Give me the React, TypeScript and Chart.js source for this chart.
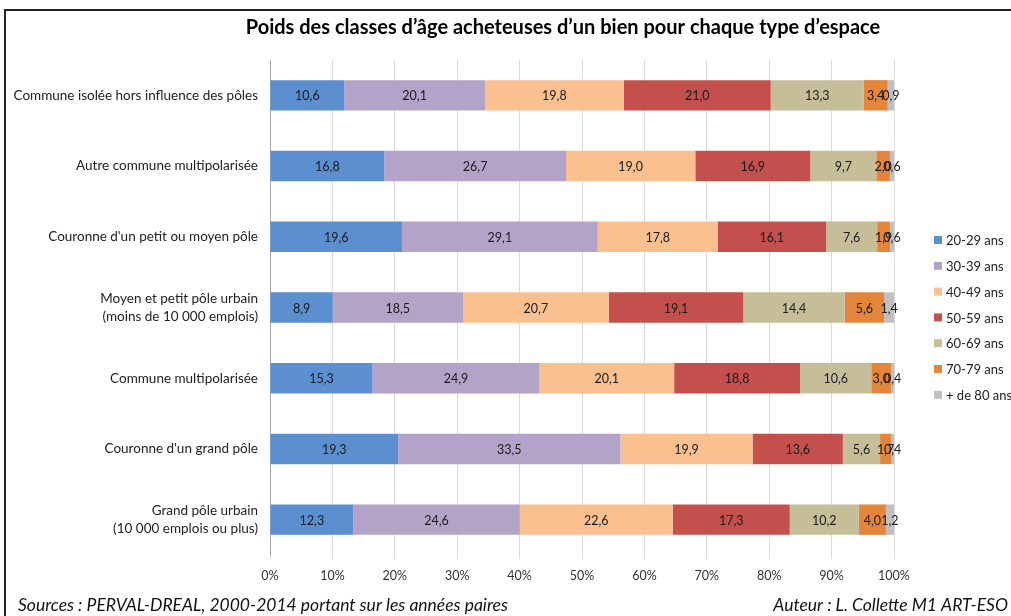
import React, { useEffect, useRef } from "react";
import { Chart, registerables } from "chart.js";

Chart.register(...registerables);

const titleText = "Poids des classes d’âge acheteuses d’un bien pour chaque type d’espace";
const sourceText = "Sources : PERVAL-DREAL, 2000-2014 portant sur les années paires";
const authorText = "Auteur : L. Collette M1 ART-ESO";

const categories: (string | string[])[] = [
  "Commune isolée hors influence des pôles",
  "Autre commune multipolarisée",
  "Couronne d'un petit ou moyen pôle",
  ["Moyen et petit pôle urbain", "(moins de 10 000 emplois)"],
  "Commune multipolarisée",
  "Couronne d'un grand pôle",
  ["Grand pôle urbain", "(10 000 emplois ou plus)"],
];

const seriesNames = ["20-29 ans", "30-39 ans", "40-49 ans", "50-59 ans", "60-69 ans", "70-79 ans", "+ de 80 ans"];
const seriesColors = ["#5B8FCF", "#B4A3C9", "#FAC08F", "#C4504E", "#C5BE98", "#E3853A", "#C0C0C0"];

const s2029 = [10.6, 16.8, 19.6, 8.9, 15.3, 19.3, 12.3];
const s3039 = [20.1, 26.7, 29.1, 18.5, 24.9, 33.5, 24.6];
const s4049 = [19.8, 19.0, 17.8, 20.7, 20.1, 19.9, 22.6];
const s5059 = [21.0, 16.9, 16.1, 19.1, 18.8, 13.6, 17.3];
const s6069 = [13.3, 9.7, 7.6, 14.4, 10.6, 5.6, 10.2];
const s7079 = [3.4, 2.0, 1.9, 5.6, 3.0, 1.7, 4.0];
const s80 = [0.9, 0.6, 0.6, 1.4, 0.4, 0.4, 1.2];

const xTicks = [0, 10, 20, 30, 40, 50, 60, 70, 80, 90, 100];

const FONT = "Lato, 'Open Sans', sans-serif";

export default function App() {
  const ref = useRef<HTMLCanvasElement | null>(null);

  useEffect(() => {
    const canvas = ref.current;
    if (!canvas) return;
    const raw = [s2029, s3039, s4049, s5059, s6069, s7079, s80];
    const totals = categories.map((_, i) => raw.reduce((a, s) => a + s[i], 0));
    const datasets = raw.map((s, k) => ({
      label: seriesNames[k],
      data: s.map((v, i) => (v / totals[i]) * 100),
      rawValues: s,
      backgroundColor: seriesColors[k],
      borderWidth: 0,
      barPercentage: 0.43,
      categoryPercentage: 1,
    }));

    const decor = {
      id: "decor",
      afterDatasetsDraw(chart: any) {
        const ctx = chart.ctx;
        ctx.save();
        ctx.font = `12.5px ${FONT}`;
        ctx.fillStyle = "#1a1a1a";
        ctx.textAlign = "center";
        ctx.textBaseline = "middle";
        chart.data.datasets.forEach((ds: any, di: number) => {
          const meta = chart.getDatasetMeta(di);
          meta.data.forEach((el: any, i: number) => {
            const v = ds.rawValues[i];
            const cx = (el.x + el.base) / 2;
            ctx.fillText(v.toFixed(1).replace(".", ","), cx, el.y + 1);
          });
        });
        ctx.restore();
      },
      afterDraw(chart: any) {
        const ctx = chart.ctx;
        ctx.save();
        // border
        ctx.strokeStyle = "#222";
        ctx.lineWidth = 2;
        ctx.beginPath();
        ctx.moveTo(5, 616);
        ctx.lineTo(5, 10);
        ctx.lineTo(1011, 10);
        ctx.stroke();
        // title
        ctx.fillStyle = "#000";
        ctx.font = `bold 20px ${FONT}`;
        ctx.textAlign = "center";
        ctx.textBaseline = "middle";
        ctx.fillText(titleText, 563, 28);
        // footer
        ctx.font = `italic 17.5px ${FONT}`;
        ctx.textAlign = "left";
        ctx.fillStyle = "#111";
        ctx.fillText(sourceText, 18, 605);
        ctx.textAlign = "right";
        ctx.fillText(authorText, 1008, 605);
        // legend
        ctx.font = `13px ${FONT}`;
        ctx.textAlign = "left";
        seriesNames.forEach((name, k) => {
          const y = 240 + k * 25.8;
          ctx.fillStyle = seriesColors[k];
          ctx.fillRect(934, y - 4, 8, 8);
          ctx.fillStyle = "#222";
          ctx.fillText(name, 946, y + 1);
        });
        ctx.restore();
      },
    };

    const chart = new Chart(canvas, {
      type: "bar",
      data: { labels: categories as any, datasets: datasets as any },
      options: {
        indexAxis: "y",
        animation: false,
        responsive: false,
        devicePixelRatio: 1,
        layout: { padding: { top: 60, right: 117, left: 0, bottom: 0 } },
        plugins: {
          legend: { display: false },
          title: { display: false },
          tooltip: { enabled: false },
        },
        scales: {
          x: {
            stacked: true,
            min: 0,
            max: 100,
            afterFit: (s: any) => { s.height = 61; },
            afterBuildTicks: (s: any) => { s.ticks = xTicks.map((v) => ({ value: v })); },
            ticks: {
              callback: (v: any) => v + "%",
              font: { family: FONT, size: 12.5 },
              color: "#333",
              padding: 9,
            },
            grid: { color: "#d9d9d9", tickLength: 4, drawTicks: true },
            border: { display: false },
          },
          y: {
            stacked: true,
            afterFit: (s: any) => { s.width = 270; },
            ticks: {
              font: { family: FONT, size: 13.5, lineHeight: 1.35 },
              color: "#222",
              padding: 4,
            },
            grid: { display: false },
            border: { display: true, color: "#a6a6a6", width: 1 },
          },
        },
      },
      plugins: [decor],
    });
    return () => chart.destroy();
  }, []);

  return (
    <div style={{ position: "absolute", left: 0, top: 0, width: 1011, height: 616, background: "#fff" }}>
      <canvas ref={ref} width={1011} height={616} style={{ display: "block" }} />
    </div>
  );
}
